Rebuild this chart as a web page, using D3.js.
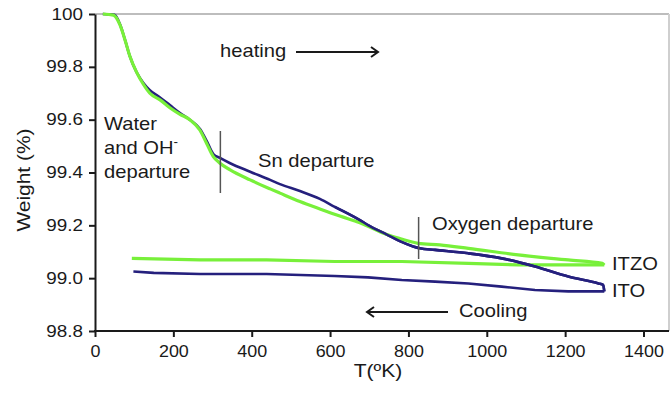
<!DOCTYPE html>
<html><head><meta charset="utf-8">
<script src="https://cdn.jsdelivr.net/npm/d3@7"></script>
<style>body{margin:0;background:#fff}text{font-family:"Liberation Sans",Arial,sans-serif;fill:#1a1a1a}</style>
</head><body><svg id="c" width="670" height="393"></svg>
<script>
const xTicks = [0,200,400,600,800,1000,1200,1400];
const xTickLabels = ["0","200","400","600","800","1000","1200","1400"];
const yTicks = [98.8,99.0,99.2,99.4,99.6,99.8,100];
const yTickLabels = ["98.8","99.0","99.2","99.4","99.6","99.8","100"];
// ITO (blue) heating then cooling
const itoHeatT = [20,50,64,77,89,106,123,140,166,191,217,242,268,285,302,319,345,396,447,472,523,574,612,676,698,745,778,812,829,868,953,1038,1123,1208,1285,1297,1300];
const itoHeatW = [100,99.997,99.96,99.90,99.84,99.78,99.74,99.712,99.684,99.655,99.625,99.60,99.565,99.52,99.47,99.455,99.435,99.403,99.372,99.356,99.33,99.30,99.27,99.22,99.20,99.165,99.14,99.12,99.113,99.107,99.094,99.075,99.044,99.006,98.98,98.975,98.95];
const itoCoolT = [1300,1208,1123,1038,953,868,783,697,612,438,268,150,98];
const itoCoolW = [98.95,98.95,98.955,98.968,98.98,98.987,98.993,99.003,99.008,99.016,99.016,99.02,99.025];
// ITZO (green)
const itzoHeatT = [20,47,64,77,89,106,123,140,166,191,217,242,268,285,302,319,345,396,447,472,523,574,625,676,745,778,825,880,953,1080,1208,1295,1300];
const itzoHeatW = [100,99.996,99.958,99.90,99.84,99.78,99.735,99.70,99.675,99.645,99.62,99.60,99.56,99.51,99.46,99.435,99.41,99.372,99.338,99.322,99.29,99.262,99.235,99.21,99.165,99.15,99.132,99.126,99.113,99.088,99.069,99.056,99.05];
const itzoCoolT = [1300,1208,1080,953,783,612,438,268,94];
const itzoCoolW = [99.05,99.05,99.05,99.056,99.063,99.063,99.069,99.069,99.075];

const svg = d3.select("#c");
const x = d3.scaleLinear().domain([0,1400]).range([95,643.5]);
const y = d3.scaleLinear().domain([98.8,100]).range([331,14]);

// frame (gray)
svg.append("line").attr("x1",95).attr("x2",669).attr("y1",y(100)).attr("y2",y(100)).attr("stroke","#bdbdbd").attr("stroke-width",2);
svg.append("line").attr("x1",669).attr("x2",669).attr("y1",y(100)).attr("y2",y(98.8)).attr("stroke","#cfcfcf").attr("stroke-width",2);

const line = d3.line().x(d=>x(d[0])).y(d=>y(d[1])).curve(d3.curveMonotoneX);
const lineN = d3.line().x(d=>x(d[0])).y(d=>y(d[1])).curve(d3.curveLinear);
const zip=(a,b)=>a.map((v,i)=>[v,b[i]]);

const blue="#25207d", green="#78f03a";
svg.append("path").attr("d",lineN(zip(itoCoolT,itoCoolW))).attr("fill","none").attr("stroke",blue).attr("stroke-width",2.6);
svg.append("path").attr("d",lineN(zip(itzoCoolT,itzoCoolW))).attr("fill","none").attr("stroke",green).attr("stroke-width",3.2);
svg.append("path").attr("d",line(zip(itoHeatT,itoHeatW))).attr("fill","none").attr("stroke",blue).attr("stroke-width",2.6);
svg.append("path").attr("d",line(zip(itzoHeatT,itzoHeatW))).attr("fill","none").attr("stroke",green).attr("stroke-width",3.2);
svg.append("path").attr("d",line(zip(itoHeatT.slice(22),itoHeatW.slice(22)))).attr("fill","none").attr("stroke",blue).attr("stroke-width",2.6);

// axes
const xa = svg.append("g").attr("transform","translate(0,331)")
  .call(d3.axisBottom(x).tickValues(xTicks).tickFormat((d,i)=>xTickLabels[i]).tickSize(6).tickPadding(9).tickSizeOuter(0));
const ya = svg.append("g").attr("transform","translate(95,0)")
  .call(d3.axisLeft(y).tickValues(yTicks).tickFormat((d,i)=>yTickLabels[i]).tickSize(6).tickPadding(6).tickSizeOuter(0));
[xa,ya].forEach(g=>{g.selectAll("text").style("font-size","16px").attr("fill","#1a1a1a");
  g.selectAll("line").attr("stroke","#1a1a1a").attr("stroke-width",2);
  g.select(".domain").attr("stroke","#1a1a1a").attr("stroke-width",2);});
xa.selectAll("text").attr("transform","scale(1.12,1)");
ya.selectAll("text").attr("transform","scale(1.18,1)").attr("x",-12/1.18);
xa.select(".domain").remove();
svg.append("line").attr("x1",94).attr("x2",669).attr("y1",331).attr("y2",331).attr("stroke","#1a1a1a").attr("stroke-width",2);

function txt(s,xx,yy,size,sx,anchor){
  return svg.append("text").attr("transform",`translate(${xx},${yy}) scale(${sx},1)`)
    .attr("text-anchor",anchor||"start").style("font-size",size+"px").text(s);
}
// axis titles
txt("T(ºK)",378,377,18,1.17,"middle");
svg.append("text").attr("transform","translate(30,180) rotate(-90) scale(1.1,1)").attr("text-anchor","middle").style("font-size","19px").text("Weight (%)");

// annotations
const S=18, SX=1.12;
txt("heating",220,57,S,SX);
txt("Water",104,130,S,SX);
const oh = txt("",104,154,S,SX);
oh.append("tspan").text("and OH");
oh.append("tspan").attr("dy",-8).style("font-size","12px").text("-");
txt("departure",104,178,S,SX);
txt("Sn departure",258,167,S,SX);
txt("Oxygen departure",432,230,S,SX);
txt("ITZO",612,270,S,SX);
txt("ITO",612,297,S,SX);
txt("Cooling",459,317,S,SX);

// markers
svg.append("line").attr("x1",x(320)).attr("x2",x(320)).attr("y1",131).attr("y2",193).attr("stroke","#555").attr("stroke-width",1.5);
svg.append("line").attr("x1",x(826)).attr("x2",x(826)).attr("y1",217).attr("y2",259).attr("stroke","#555").attr("stroke-width",1.5);

// arrows
function arrow(x1,x2,yy){
  svg.append("line").attr("x1",x1).attr("x2",x2).attr("y1",yy).attr("y2",yy).attr("stroke","#1a1a1a").attr("stroke-width",2);
  const s = x2>x1?-1:1;
  svg.append("path").attr("d",`M${x2+s*7},${yy-5}L${x2},${yy}L${x2+s*7},${yy+5}`).attr("fill","none").attr("stroke","#1a1a1a").attr("stroke-width",2);
}
arrow(296,378,52);
arrow(448,367,312);
</script></body></html>
